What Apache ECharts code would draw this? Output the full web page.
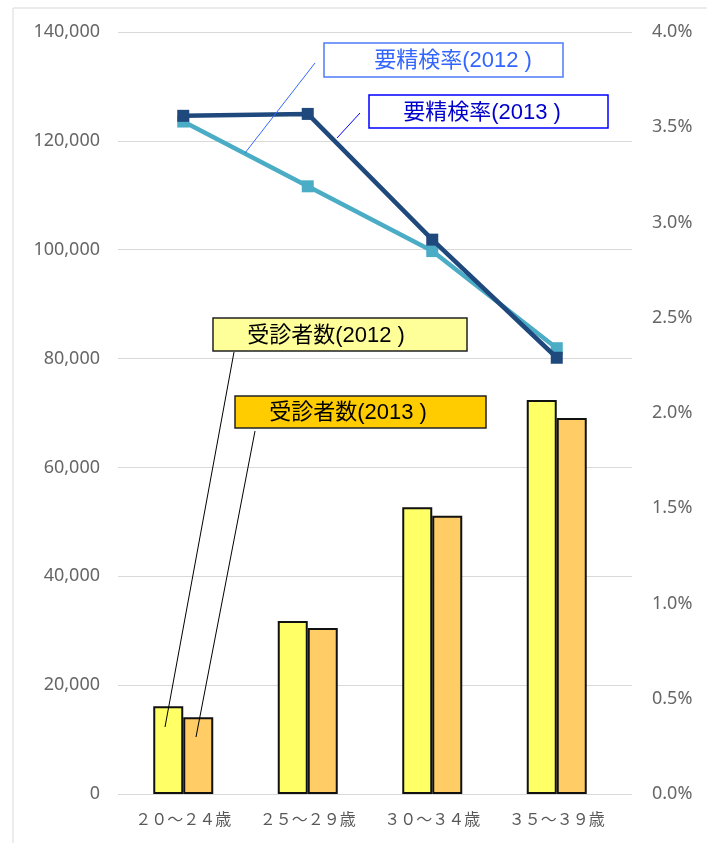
<!DOCTYPE html>
<html>
<head>
<meta charset="utf-8">
<script src="https://cdn.jsdelivr.net/npm/echarts@6/dist/echarts.min.js"></script>
<style>
  html, body { margin: 0; padding: 0; background: #fff; }
  #chart { width: 707px; height: 843px; }
</style>
</head>
<body>
<div id="chart"></div>
<script>
// 年齢区分
var categories = ['２０～２４歳', '２５～２９歳', '３０～３４歳', '３５～３９歳'];
// 受診者数
var visits2012 = [16100, 31800, 52700, 72400];
var visits2013 = [14100, 30500, 51100, 69100];
// 要精検率 (%)
var rate2012 = [3.53, 3.19, 2.85, 2.34];
var rate2013 = [3.56, 3.57, 2.91, 2.29];

var labelFont = '"Noto Sans", "Noto Sans CJK JP", sans-serif';
var boxFont = '"Liberation Sans", "Noto Sans CJK JP", sans-serif';

var chartDom = document.getElementById('chart');
var myChart = echarts.init(chartDom);

function box(x, y, w, h, fill, stroke, text, tx, color) {
    return [
        {
            type: 'rect',
            shape: { x: x, y: y, width: w, height: h },
            style: { fill: fill, stroke: stroke, lineWidth: 1.5 },
            z: 10
        },
        {
            type: 'text',
            x: tx,
            y: y + h / 2 + 1,
            style: {
                text: text,
                fill: color,
                font: '22px ' + boxFont,
                align: 'center',
                verticalAlign: 'middle'
            },
            z: 11
        }
    ];
}

function leader(x1, y1, x2, y2, color) {
    return {
        type: 'line',
        shape: { x1: x1, y1: y1, x2: x2, y2: y2 },
        style: { stroke: color, lineWidth: 1 },
        z: 9
    };
}

var graphics = [
    leader(13, 8, 13, 843, '#d9d9d9'),
    leader(13, 8, 707, 8, '#d9d9d9'),
    leader(315, 63, 245, 153, '#3366ff'),
    leader(360, 113, 337, 138, '#0000ff'),
    leader(234, 352, 165, 727, '#000'),
    leader(255, 431, 196, 737, '#000')
]
    .concat(box(324, 43, 239, 34, '#fff', '#4f7bf5', '要精検率(2012 )', 453, '#3366ff'))
    .concat(box(369, 95, 239, 33, '#fff', '#0000ff', '要精検率(2013 )', 482, '#0000cc'))
    .concat(box(213, 318, 254, 33, '#ffff99', '#222', '受診者数(2012 )', 326, '#000'))
    .concat(box(235, 396, 251, 32, '#ffcc00', '#222', '受診者数(2013 )', 348, '#000'));

var option = {
    animation: false,
    grid: [
        { left: 121, right: 88, top: 32, bottom: 49 },
        { left: 118, right: 75, top: 32, bottom: 49 }
    ],
    xAxis: [
        {
            type: 'category',
            data: categories,
            gridIndex: 0,
            axisTick: { show: false },
            axisLine: { lineStyle: { color: '#d9d9d9', width: 1 } },
            axisLabel: {
                interval: 0,
                color: '#595959',
                fontSize: 16,
                fontFamily: labelFont,
                margin: 18
            }
        },
        {
            type: 'category',
            data: categories,
            gridIndex: 1,
            show: false
        }
    ],
    yAxis: [
        {
            type: 'value',
            gridIndex: 0,
            min: 0,
            max: 140000,
            interval: 20000,
            splitLine: { show: false },
            axisLine: { show: false },
            axisTick: { show: false },
            axisLabel: {
                color: '#666',
                fontSize: 18,
                fontFamily: labelFont,
                margin: 21,
                formatter: function (v) {
                    return v.toString().replace(/\B(?=(\d{3})+(?!\d))/g, ',');
                }
            }
        },
        {
            type: 'value',
            gridIndex: 0,
            position: 'right',
            min: 0,
            max: 4,
            interval: 0.5,
            splitLine: { show: false },
            axisLine: { show: false },
            axisTick: { show: false },
            axisLabel: {
                color: '#666',
                fontSize: 18,
                fontFamily: labelFont,
                margin: 33,
                formatter: function (v) {
                    return v.toFixed(1) + '%';
                }
            }
        },
        {
            type: 'value',
            gridIndex: 1,
            min: 0,
            max: 140000,
            interval: 20000,
            axisLabel: { show: false },
            axisLine: { show: false },
            axisTick: { show: false },
            splitLine: { lineStyle: { color: '#d9d9d9', width: 1 } }
        }
    ],
    series: [
        {
            name: '受診者数(2012)',
            type: 'bar',
            data: visits2012,
            barWidth: 30,
            barGap: '0%',
            itemStyle: { color: '#ffff66', borderColor: '#111', borderWidth: 2 },
            z: 3
        },
        {
            name: '受診者数(2013)',
            type: 'bar',
            data: visits2013,
            barWidth: 30,
            barGap: '0%',
            itemStyle: { color: '#ffcc66', borderColor: '#111', borderWidth: 2 },
            z: 3
        },
        {
            name: '要精検率(2012)',
            type: 'line',
            yAxisIndex: 1,
            data: rate2012,
            symbol: 'rect',
            symbolSize: 12,
            lineStyle: { color: '#4bacc6', width: 4.5 },
            itemStyle: { color: '#4bacc6' },
            z: 4
        },
        {
            name: '要精検率(2013)',
            type: 'line',
            yAxisIndex: 1,
            data: rate2013,
            symbol: 'rect',
            symbolSize: 12,
            lineStyle: { color: '#1f497d', width: 4.5 },
            itemStyle: { color: '#1f497d' },
            z: 5
        }
    ],
    graphic: graphics
};

myChart.setOption(option);
</script>
</body>
</html>
